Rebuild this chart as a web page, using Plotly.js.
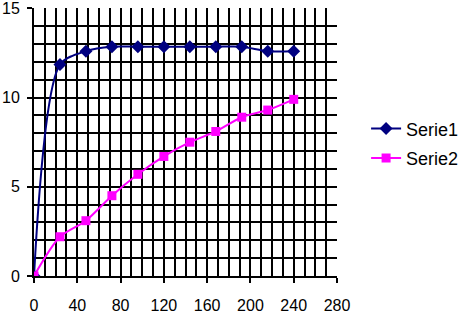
<!DOCTYPE html>
<html><head><meta charset="utf-8">
<script src="https://cdn.plot.ly/plotly-3.0.1.min.js"></script>
<style>html,body{margin:0;padding:0;background:#fff;}#chart{width:461px;height:317px;}</style>
</head><body><div id="chart"></div>
<script>
const xValues = [0, 24, 48, 72, 96, 120, 144, 168, 192, 216, 240];
const serie1 = [0, 11.85, 12.6, 12.85, 12.85, 12.85, 12.85, 12.85, 12.85, 12.6, 12.6];
const serie2 = [0, 2.2, 3.1, 4.5, 5.7, 6.7, 7.5, 8.1, 8.9, 9.3, 9.9];
const seriesNames = ["Serie1", "Serie2"];
const yTicks = [0, 5, 10, 15];

const traces = [
  {x: xValues, y: serie1, name: seriesNames[0], legendgroup: 'a', type: 'scatter', mode: 'lines+markers',
   line: {color: '#000080', width: 2, shape: 'spline', smoothing: 0.8},
   marker: {symbol: 'diamond', size: 10, color: '#000080'}},
  {x: xValues, y: serie2, name: seriesNames[1], legendgroup: 'b', type: 'scatter', mode: 'lines+markers',
   line: {color: '#FF00FF', width: 2, shape: 'spline', smoothing: 0.8},
   marker: {symbol: 'square', size: 9, color: '#FF00FF'}}
];

const layout = {
  width: 461, height: 317,
  margin: {l: 34, r: 124, t: 8, b: 41, pad: 0, autoexpand: false},
  paper_bgcolor: '#fff', plot_bgcolor: '#fff',
  font: {family: 'Liberation Sans, Arial, sans-serif', size: 16, color: '#000'},
  showlegend: true,
  legend: {x: 1.096, y: 0.495, xanchor: 'left', yanchor: 'middle', font: {size: 18},
           traceorder: 'grouped', tracegroupgap: 3},
  xaxis: {range: [0, 280], dtick: 40, tick0: 0, showgrid: true, gridcolor: '#000', gridwidth: 2,
          minor: {dtick: 10, showgrid: true, gridcolor: '#000', gridwidth: 2},
          ticks: 'outside', ticklen: 5, tickwidth: 2, tickcolor: '#000', ticklabelstandoff: 9,
          showline: true, linecolor: '#000', linewidth: 2, zeroline: false},
  yaxis: {range: [0, 15.02], tickmode: 'array', tickvals: yTicks, showgrid: true, gridcolor: '#000', gridwidth: 2,
          minor: {tickmode: 'linear', tick0: 0, dtick: 1, showgrid: true, gridcolor: '#000', gridwidth: 2},
          ticks: 'outside', ticklen: 5, tickwidth: 2, tickcolor: '#000', ticklabelstandoff: 4,
          ticklabeloverflow: 'allow', showline: true, linecolor: '#000', linewidth: 2, zeroline: false}
};

Plotly.newPlot('chart', traces, layout, {staticPlot: true, displayModeBar: false});
</script></body></html>
